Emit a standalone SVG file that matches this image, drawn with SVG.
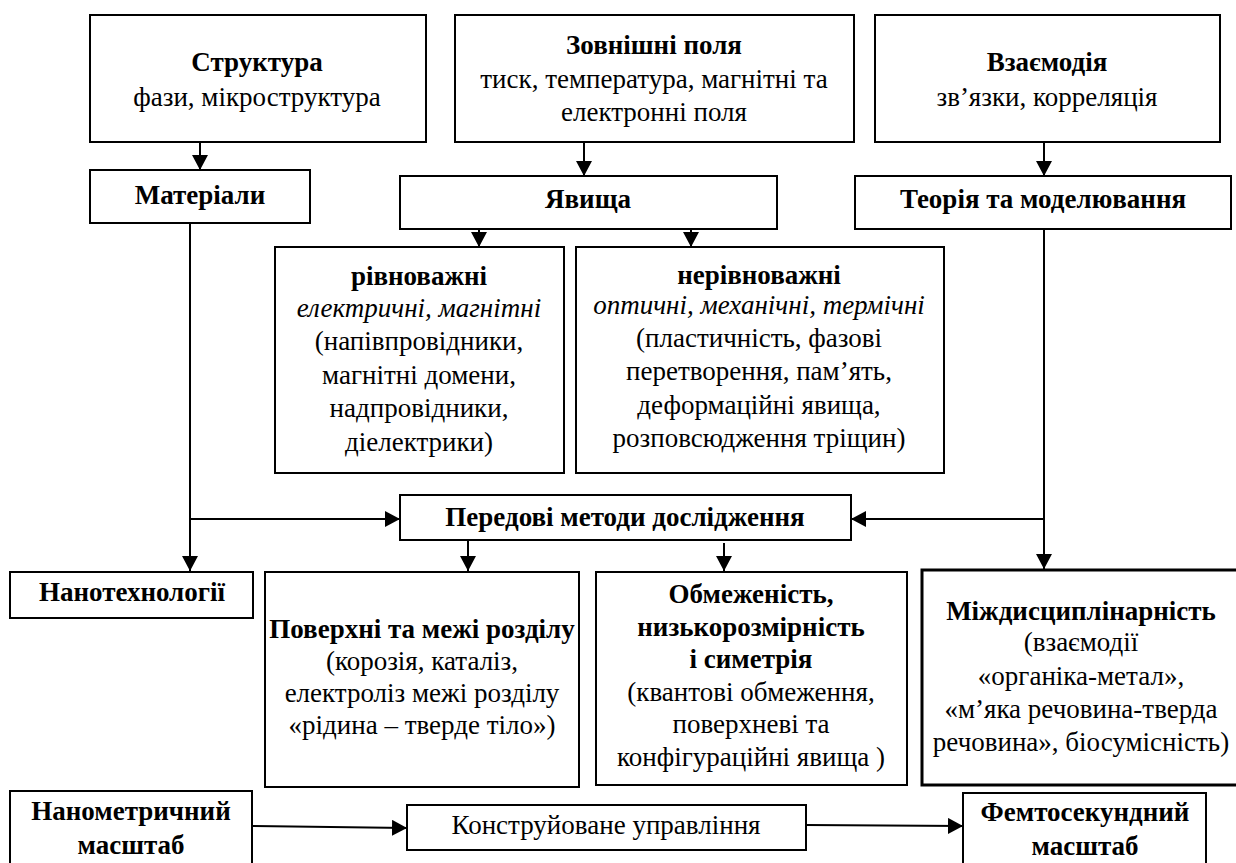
<svg xmlns="http://www.w3.org/2000/svg" width="1236" height="863" viewBox="0 0 1236 863">
<defs>
<style>
.box{fill:#fff;stroke:#000;stroke-width:2}
.thick{stroke-width:3}
text{font-family:"Liberation Serif","Times New Roman",serif;font-size:27px;fill:#000;text-anchor:middle}
.b{font-weight:bold}
.i{font-style:italic}
.ln{stroke:#000;stroke-width:2;fill:none}
</style>
<marker id="ah" markerWidth="15" markerHeight="16" refX="15" refY="8" orient="auto" markerUnits="userSpaceOnUse">
<path d="M0,0 L15,8 L0,16 Z" fill="#000"/>
</marker>
</defs>
<rect width="1236" height="863" fill="#fff"/>

<g id="connectors">
<line class="ln" x1="200" y1="142" x2="200" y2="170" marker-end="url(#ah)"/>
<line class="ln" x1="584" y1="142" x2="584" y2="176" marker-end="url(#ah)"/>
<line class="ln" x1="1044" y1="142" x2="1044" y2="176" marker-end="url(#ah)"/>
<line class="ln" x1="479" y1="229" x2="479" y2="247" marker-end="url(#ah)"/>
<line class="ln" x1="691" y1="229" x2="691" y2="247" marker-end="url(#ah)"/>
<line class="ln" x1="190" y1="223" x2="190" y2="571" marker-end="url(#ah)"/>
<line class="ln" x1="1044" y1="229" x2="1044" y2="569" marker-end="url(#ah)"/>
<line class="ln" x1="191" y1="519" x2="400" y2="519" marker-end="url(#ah)"/>
<line class="ln" x1="1044" y1="519" x2="851" y2="519" marker-end="url(#ah)"/>
<line class="ln" x1="468" y1="540" x2="468" y2="571" marker-end="url(#ah)"/>
<line class="ln" x1="724" y1="543" x2="724" y2="571" marker-end="url(#ah)"/>
<line class="ln" x1="252" y1="826" x2="407" y2="828" marker-end="url(#ah)"/>
<line class="ln" x1="806" y1="825" x2="963" y2="826" marker-end="url(#ah)"/>
</g>

<g id="struktura">
<rect class="box" x="90" y="15" width="336" height="127"/>
<text class="b" x="257" y="71">Структура</text>
<text x="257" y="106">фази, мікроструктура</text>
</g>
<g id="zovnishni">
<rect class="box" x="455" y="15" width="399" height="127"/>
<text class="b" x="654" y="54">Зовнішні поля</text>
<text x="654" y="88">тиск, температура, магнітні та</text>
<text x="654" y="121">електронні поля</text>
</g>
<g id="vzaiemodiia">
<rect class="box" x="875" y="15" width="345" height="127"/>
<text class="b" x="1047" y="71">Взаємодія</text>
<text x="1047" y="106">зв’язки, корреляція</text>
</g>
<g id="materialy">
<rect class="box" x="90" y="170" width="220" height="53"/>
<text class="b" x="200" y="204">Матеріали</text>
</g>
<g id="iavyshcha">
<rect class="box" x="400" y="176" width="377" height="53"/>
<text class="b" x="588" y="208">Явища</text>
</g>
<g id="teoriia">
<rect class="box" x="855" y="176" width="376" height="53"/>
<text class="b" x="1043" y="208">Теорія та моделювання</text>
</g>
<g id="rivnovazhni">
<rect class="box" x="275" y="247" width="289" height="226"/>
<text class="b" x="419" y="285">рівноважні</text>
<text class="i" x="419" y="317">електричні, магнітні</text>
<text x="419" y="350">(напівпровідники,</text>
<text x="419" y="384">магнітні домени,</text>
<text x="419" y="417">надпровідники,</text>
<text x="419" y="451">діелектрики)</text>
</g>
<g id="nerivnovazhni">
<rect class="box" x="576" y="247" width="368" height="226"/>
<text class="b" x="759" y="284">нерівноважні</text>
<text class="i" x="759" y="314">оптичні, механічні, термічні</text>
<text x="759" y="347">(пластичність, фазові</text>
<text x="759" y="380">перетворення, пам’ять,</text>
<text x="759" y="414">деформаційні явища,</text>
<text x="759" y="447">розповсюдження тріщин)</text>
</g>
<g id="peredovi">
<rect class="box" x="400" y="495" width="451" height="45"/>
<text class="b" x="625" y="526">Передові методи дослідження</text>
</g>
<g id="nanotekhnolohii">
<rect class="box" x="10" y="572" width="243" height="46"/>
<text class="b" x="132" y="601">Нанотехнології</text>
</g>
<g id="poverkhni">
<rect class="box" x="265" y="572" width="314" height="215"/>
<text class="b" x="422" y="638">Поверхні та межі розділу</text>
<text x="422" y="670">(корозія, каталіз,</text>
<text x="422" y="702">електроліз межі розділу</text>
<text x="422" y="734">«рідина – тверде тіло»)</text>
</g>
<g id="obmezhenist">
<rect class="box" x="596" y="572" width="311" height="213"/>
<text class="b" x="751" y="603">Обмеженість,</text>
<text class="b" x="751" y="636">низькорозмірність</text>
<text class="b" x="751" y="668">і симетрія</text>
<text x="751" y="701">(квантові обмеження,</text>
<text x="751" y="733">поверхневі та</text>
<text x="751" y="766">конфігураційні явища )</text>
</g>
<g id="mizhdystsyplinarnist">
<rect class="box thick" x="922" y="570" width="320" height="215"/>
<text class="b" x="1081" y="620">Міждисциплінарність</text>
<text x="1081" y="651">(взаємодії</text>
<text x="1081" y="685">«органіка-метал»,</text>
<text x="1081" y="718">«м’яка речовина-тверда</text>
<text x="1081" y="751">речовина», біосумісність)</text>
</g>
<g id="nanometrychnyi">
<rect class="box" x="10" y="791" width="242" height="80"/>
<text class="b" x="131" y="820">Нанометричний</text>
<text class="b" x="131" y="854">масштаб</text>
</g>
<g id="konstruiovane">
<rect class="box" x="407" y="805" width="399" height="45"/>
<text x="606" y="834">Конструйоване управління</text>
</g>
<g id="femtosekundnyi">
<rect class="box" x="963" y="793" width="243" height="80"/>
<text class="b" x="1085" y="821">Фемтосекундний</text>
<text class="b" x="1085" y="855">масштаб</text>
</g>
</svg>
